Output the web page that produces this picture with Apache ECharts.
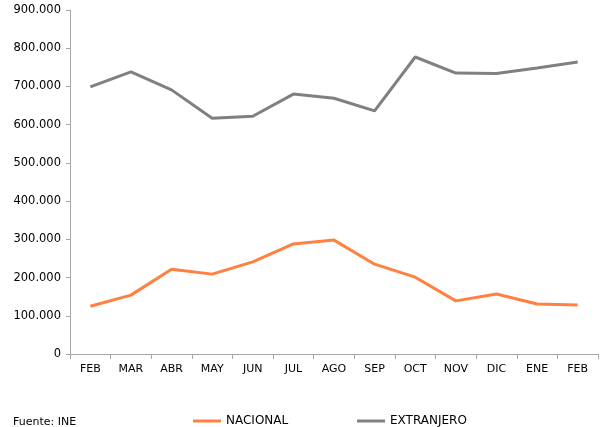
<!DOCTYPE html>
<html><head><meta charset="utf-8">
<script src="https://cdn.jsdelivr.net/npm/echarts@6/dist/echarts.min.js"></script>
<style>html,body{margin:0;padding:0;background:#fff}#c{width:601px;height:427px}</style>
</head><body><div id="c"></div>
<script>
const categories = ['FEB','MAR','ABR','MAY','JUN','JUL','AGO','SEP','OCT','NOV','DIC','ENE','FEB'];
const nacional = [125000,154000,222000,209000,241000,288000,298000,235000,201000,139000,157000,131000,128000];
const extranjero = [699000,738000,691000,617000,622000,680000,669000,636000,777000,735000,734000,748000,764000];
const yTicks = {min:0, max:900000, interval:100000};

const fmt = v => v === 0 ? '0' : String(v).replace(/\B(?=(\d{3})+(?!\d))/g, '.');
const font = 'Verdana, "DejaVu Sans", sans-serif';
const legendBase = {top:415,padding:0,itemWidth:28,itemHeight:3,icon:'rect',
  textStyle:{fontFamily:font,fontSize:12,color:'#000'}};
const chart = echarts.init(document.getElementById('c'));
chart.setOption({
  animation:false,
  grid:{left:70,right:3,top:10,bottom:73,containLabel:false},
  graphic:[{type:'text',left:13,top:417,style:{text:'Fuente: INE',font:'11px '+font,fill:'#000'}}],
  legend:[
    Object.assign({left:193,data:['NACIONAL']}, legendBase),
    Object.assign({left:357,data:['EXTRANJERO']}, legendBase)
  ],
  xAxis:{type:'category',data:categories,boundaryGap:true,
    axisLine:{lineStyle:{color:'#a6a6a6',width:1}},
    axisTick:{show:true,length:5,lineStyle:{color:'#a6a6a6'}},
    axisLabel:{fontFamily:font,fontSize:11,color:'#000',margin:10,interval:0},
    splitLine:{show:false}},
  yAxis:{type:'value',min:yTicks.min,max:yTicks.max,interval:yTicks.interval,
    axisLine:{show:true,lineStyle:{color:'#a6a6a6',width:1}},
    axisTick:{show:true,length:4,lineStyle:{color:'#a6a6a6'}},
    axisLabel:{fontFamily:font,fontSize:11.5,color:'#000',margin:9,formatter:fmt},
    splitLine:{show:false}},
  series:[
    {name:'NACIONAL',type:'line',data:nacional,symbol:'none',lineStyle:{color:'#ff8040',width:3},itemStyle:{color:'#ff8040'}},
    {name:'EXTRANJERO',type:'line',data:extranjero,symbol:'none',lineStyle:{color:'#808080',width:3},itemStyle:{color:'#808080'}}
  ]
});
</script></body></html>
